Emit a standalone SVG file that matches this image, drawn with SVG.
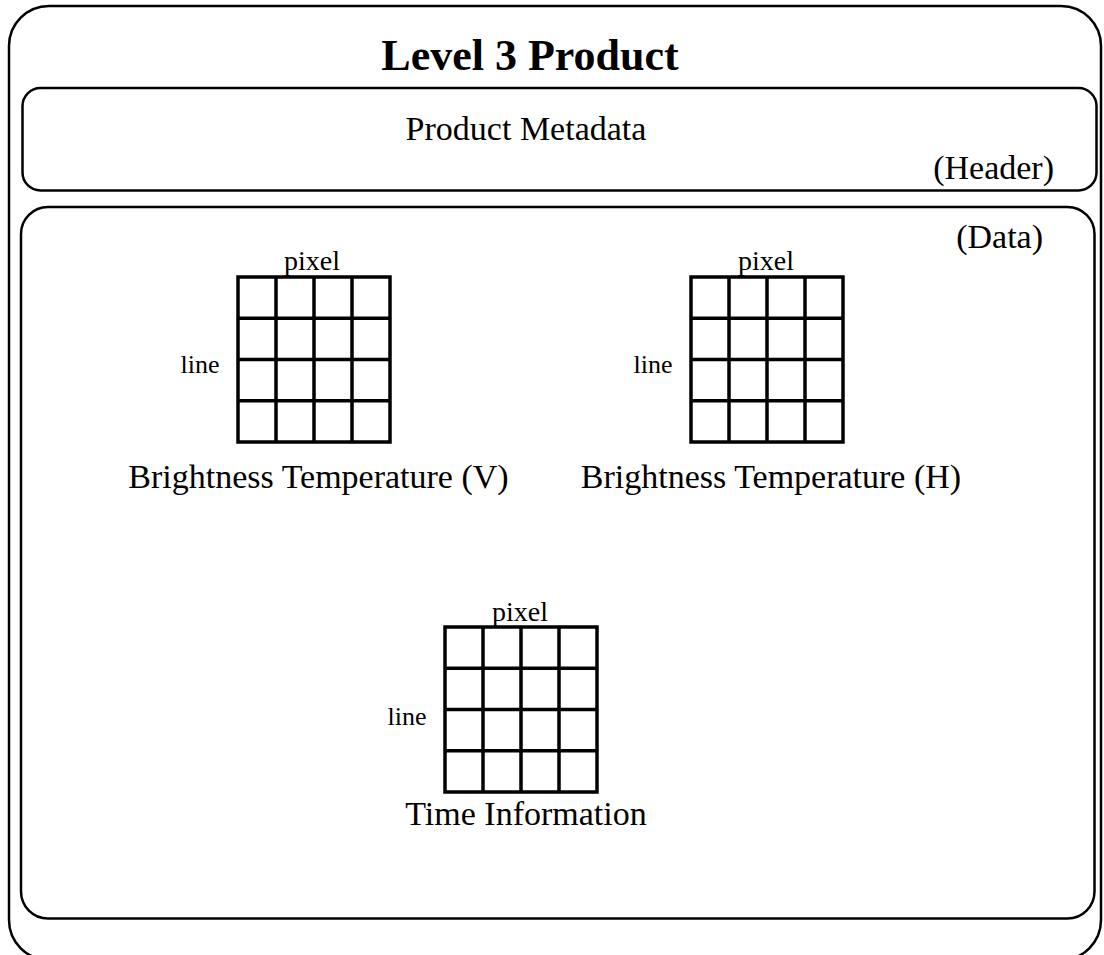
<svg xmlns="http://www.w3.org/2000/svg" width="1104" height="955" viewBox="0 0 1104 955">
<style>
.box{fill:none;stroke:#000;stroke-width:2.5}
.grid{fill:none;stroke:#000;stroke-width:3.5}
text{font-family:"Liberation Serif","Times New Roman",serif;fill:#000}
.t{font-size:34px}
.s{font-size:26px}
.p{font-size:28px}
.title{font-size:44px;font-weight:bold}
</style>
<defs>
<g id="g4">
<rect class="grid" x="0" y="0" width="152" height="165"/>
<path class="grid" d="M38 0V165M76 0V165M114 0V165M0 41.25H152M0 82.5H152M0 123.75H152"/>
</g>
</defs>
<rect width="1104" height="955" fill="#fff"/>
<g id="outer">
<rect class="box" x="9" y="6" width="1092" height="954" rx="40" ry="40"/>
<text class="title" x="530" y="70" text-anchor="middle">Level 3 Product</text>
</g>
<g id="header">
<rect class="box" x="22.5" y="88" width="1074" height="102.5" rx="18" ry="18"/>
<text class="t" x="526" y="140" text-anchor="middle">Product Metadata</text>
<text class="t" x="1054" y="179" text-anchor="end">(Header)</text>
</g>
<g id="data">
<rect class="box" x="21" y="207" width="1073.5" height="711.5" rx="27" ry="27"/>
<text class="t" x="1043" y="248" text-anchor="end">(Data)</text>
</g>
<g id="bt-v">
<use href="#g4" x="238" y="277"/>
<text class="p" x="312" y="270" text-anchor="middle">pixel</text>
<text class="s" x="200" y="373" text-anchor="middle">line</text>
<text class="t" x="318.5" y="487.5" text-anchor="middle">Brightness Temperature (V)</text>
</g>
<g id="bt-h">
<use href="#g4" x="691" y="277"/>
<text class="p" x="766" y="270" text-anchor="middle">pixel</text>
<text class="s" x="653" y="373" text-anchor="middle">line</text>
<text class="t" x="771" y="487.5" text-anchor="middle">Brightness Temperature (H)</text>
</g>
<g id="time">
<use href="#g4" x="445" y="627"/>
<text class="p" x="520" y="621" text-anchor="middle">pixel</text>
<text class="s" x="407" y="725" text-anchor="middle">line</text>
<text class="t" x="526" y="825" text-anchor="middle">Time Information</text>
</g>
<g id="connectors"/>
</svg>
